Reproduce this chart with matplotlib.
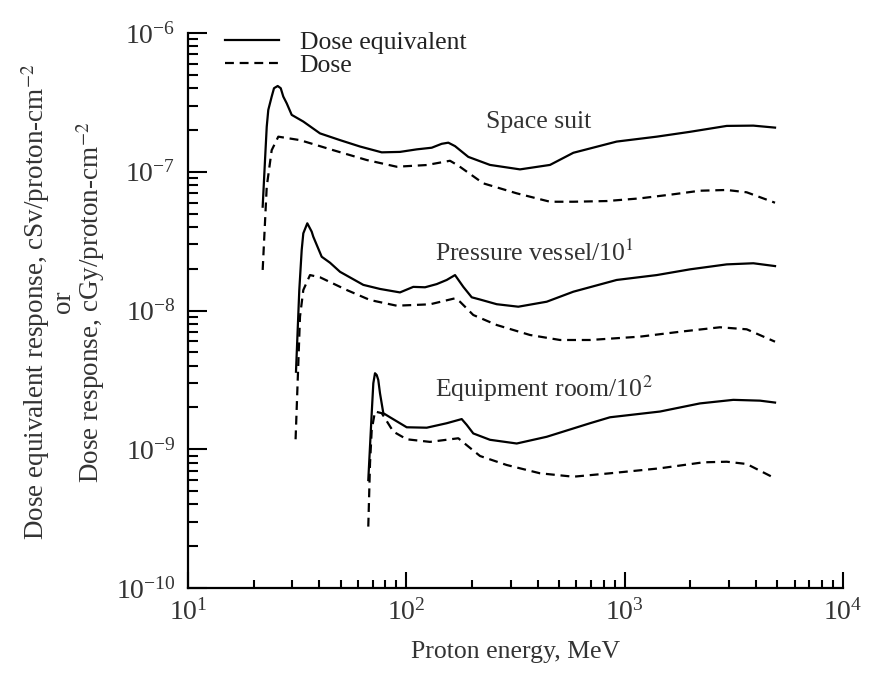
import numpy as np
import matplotlib
matplotlib.use('Agg')
import matplotlib.pyplot as plt

plt.rcParams['font.family'] = ['Liberation Serif', 'DejaVu Serif']
plt.rcParams['mathtext.fontset'] = 'stix'

# proton energy (MeV) and response values
suit_eq_E = [21.98, 22.53, 22.94, 23.32, 24.17, 24.77, 25.75, 26.59, 27.32, 28.33, 29.85, 33.74,
             40.24, 49.7, 61.35, 77.14, 93.5, 111.6, 130.7, 145.2, 155.7, 167.1, 192.2, 241.6,
             331.6, 455, 582, 919, 1402, 1992, 2934, 3884, 4883]
suit_eq = [5.60e-8, 1.215e-7, 2.11e-7, 2.79e-7, 3.48e-7, 4.00e-7, 4.15e-7, 4.00e-7, 3.48e-7,
           3.11e-7, 2.57e-7, 2.30e-7, 1.89e-7, 1.69e-7, 1.52e-7, 1.38e-7, 1.39e-7, 1.45e-7,
           1.49e-7, 1.59e-7, 1.62e-7, 1.53e-7, 1.28e-7, 1.12e-7, 1.04e-7, 1.12e-7, 1.37e-7,
           1.65e-7, 1.79e-7, 1.94e-7, 2.14e-7, 2.15e-7, 2.08e-7]
suit_d_E = [21.98, 22.94, 24.17, 25.92, 32.58, 46.30, 65.83, 90.3, 124, 158.5, 173, 225.1,
            320.3, 455, 582, 827.6, 1176, 1671, 2213, 2934, 3622, 4883]
suit_d = [1.96e-8, 7.80e-8, 1.43e-7, 1.79e-7, 1.69e-7, 1.43e-7, 1.215e-7, 1.087e-7, 1.118e-7,
          1.20e-7, 1.107e-7, 8.25e-8, 6.99e-8, 6.08e-8, 6.08e-8, 6.15e-8, 6.43e-8, 6.88e-8,
          7.30e-8, 7.39e-8, 7.11e-8, 5.98e-8]

vessel_eq_E = [31.23, 32.34, 33.17, 33.74, 35.19, 36.86, 37.49, 40.96, 44.71, 49.7, 63.52, 75.75,
               93.5, 107.6, 121.8, 137.8, 153.1, 167.1, 182.4, 199.3, 217.5, 259.4, 325.7, 439.5,
               582, 919, 1402, 1992, 2934, 3884, 4883]
vessel_eq = [3.62e-9, 1.405e-8, 2.73e-8, 3.60e-8, 4.25e-8, 3.70e-8, 3.40e-8, 2.44e-8, 2.21e-8,
             1.90e-8, 1.53e-8, 1.43e-8, 1.35e-8, 1.48e-8, 1.47e-8, 1.55e-8, 1.66e-8, 1.80e-8,
             1.48e-8, 1.245e-8, 1.20e-8, 1.11e-8, 1.065e-8, 1.157e-8, 1.366e-8, 1.66e-8,
             1.80e-8, 1.98e-8, 2.15e-8, 2.19e-8, 2.09e-8]
vessel_d_E = [31.1, 32.58, 33.74, 36.21, 40.24, 53.33, 68.18, 90.3, 128.3, 167.1, 176.1, 202.6,
              259.4, 368.5, 505.5, 693.8, 1176, 1793, 2733, 3622, 4883]
vessel_d = [1.18e-9, 9.02e-9, 1.405e-8, 1.80e-8, 1.735e-8, 1.405e-8, 1.19e-8, 1.083e-8, 1.108e-8,
            1.224e-8, 1.157e-8, 9.28e-9, 7.86e-9, 6.66e-9, 6.13e-9, 6.13e-9, 6.48e-9, 7.03e-9,
            7.57e-9, 7.32e-9, 5.96e-9]

room_eq_E = [66.95, 69.41, 70.6, 71.86, 73.15, 74.38, 75.75, 78.45, 84.19, 100.4, 124, 153.1,
             179.3, 189, 202.6, 241.6, 320.3, 439.5, 693.8, 856.6, 1452, 2213, 3145, 4168, 4883]
room_eq = [6.0e-10, 1.82e-9, 2.99e-9, 3.53e-9, 3.43e-9, 3.16e-9, 2.53e-9, 1.82e-9, 1.70e-9,
           1.44e-9, 1.43e-9, 1.54e-9, 1.65e-9, 1.50e-9, 1.30e-9, 1.17e-9, 1.10e-9, 1.23e-9,
           1.54e-9, 1.70e-9, 1.87e-9, 2.14e-9, 2.27e-9, 2.24e-9, 2.17e-9]
room_d_E = [66.95, 68.18, 69.41, 71.86, 77.14, 87.18, 100.4, 128.3, 173, 189, 217.5, 288.2,
            409.5, 582, 856.6, 1452, 2292, 2934, 3622, 4883]
room_d = [2.77e-10, 7.92e-10, 1.38e-9, 1.87e-9, 1.82e-9, 1.34e-9, 1.18e-9, 1.13e-9, 1.20e-9,
          1.07e-9, 8.94e-10, 7.70e-10, 6.71e-10, 6.34e-10, 6.71e-10, 7.29e-10, 8.05e-10,
          8.13e-10, 7.83e-10, 6.17e-10]

fig = plt.figure(figsize=(8.7, 6.73), dpi=100)
ax = fig.add_axes([188/870, 1 - 588/673, 655/870, 555/673])

lw = 1.6
dash = (0, (4, 2.6))
ax.plot(suit_eq_E, suit_eq, '-k', lw=lw, label='Dose equivalent')
ax.plot(suit_d_E, suit_d, color='k', ls=dash, lw=lw, label='Dose')
ax.plot(vessel_eq_E, vessel_eq, '-k', lw=lw)
ax.plot(vessel_d_E, vessel_d, color='k', ls=dash, lw=lw)
ax.plot(room_eq_E, room_eq, '-k', lw=lw)
ax.plot(room_d_E, room_d, color='k', ls=dash, lw=lw)

ax.set_xscale('log')
ax.set_yscale('log')
ax.set_xlim(10, 1e4)
ax.set_ylim(1e-10, 1e-6)

for s in ['top', 'right']:
    ax.spines[s].set_visible(False)
for s in ['left', 'bottom']:
    ax.spines[s].set_linewidth(1.6)

ax.tick_params(axis='x', which='major', direction='in', length=11.5, width=1.5, pad=8, labelsize=20)
ax.tick_params(axis='x', which='minor', direction='in', length=5.8, width=1.5)
ax.tick_params(axis='y', which='major', direction='in', length=13.5, width=1.5, pad=9, labelsize=20)
ax.tick_params(axis='y', which='minor', direction='in', length=7, width=1.5)
ax.xaxis.set_minor_locator(matplotlib.ticker.LogLocator(base=10, subs=np.arange(2, 10)))
ax.yaxis.set_minor_locator(matplotlib.ticker.LogLocator(base=10, subs=np.arange(2, 10)))
ax.xaxis.set_minor_formatter(matplotlib.ticker.NullFormatter())
ax.yaxis.set_minor_formatter(matplotlib.ticker.NullFormatter())
for lab in ax.get_xticklabels() + ax.get_yticklabels():
    lab.set_color('#333333')

ax.text(231.7, 2.07e-7, 'Space suit', fontsize=18.5, color='#333333', va='baseline')
ax.text(135.3, 2.29e-8, 'Pressure vessel/10$^1$', fontsize=18.5, color='#333333', va='baseline')
ax.text(135.3, 2.39e-9, 'Equipment room/10$^2$', fontsize=18.5, color='#333333', va='baseline')

leg = ax.legend(loc='center left', bbox_to_anchor=(225/870, 1 - 54/673), bbox_transform=fig.transFigure,
                frameon=False, fontsize=18.5, handlelength=2.1, handletextpad=0.8,
                labelspacing=0.0, borderpad=0, borderaxespad=0)
for t in leg.get_texts():
    t.set_color('#222222')

fig.text(516/870, 1 - 652/673, 'Proton energy, MeV', fontsize=18.5, color='#333333',
         ha='center', va='center')
fig.text(63/870, 1 - 302/673,
         'Dose equivalent response, cSv/proton-cm$^{-2}$\nor\nDose response, cGy/proton-cm$^{-2}$',
         fontsize=19.5, color='#333333', rotation=90, ha='center', va='center',
         multialignment='center', linespacing=0.92)

fig.savefig('out.png', dpi=100)
